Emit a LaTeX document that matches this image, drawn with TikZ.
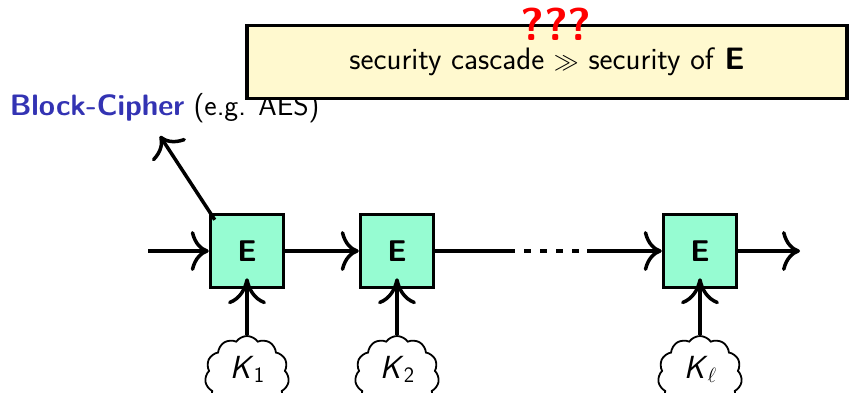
\documentclass[tikz,border=0pt]{standalone}
\usepackage{fontspec}
\usetikzlibrary{arrows.meta,shapes.symbols,calc}

\definecolor{cipherfill}{RGB}{150,252,210}
\definecolor{notefill}{RGB}{255,249,207}
\definecolor{structblue}{RGB}{51,51,179}

% key name with a lowered subscript
\newcommand{\keyname}[1]{\textit{K}\raisebox{-4pt}{\fontsize{22}{22}\selectfont #1}}

\begin{document}
\begin{tikzpicture}[x=1pt,y=-1pt,
  font=\sffamily\fontsize{30}{36}\selectfont,
  line width=3.5pt,
  flow/.style={-{To[length=18pt,width=40pt]}},
  keyflow/.style={-{To[length=26pt,width=38pt]}},
  cipher/.style={draw, fill=cipherfill, minimum size=73pt, inner sep=0pt},
  keycloud/.style={cloud, draw, fill=white, line width=1.8pt, cloud puffs=11,
    cloud puff arc=110, aspect=1.2, minimum width=84pt, minimum height=80pt,
    inner sep=0pt, text depth=18pt, font=\sffamily\fontsize{32}{38}\selectfont},
  note/.style={draw, fill=notefill, minimum width=600pt, minimum height=73pt,
    inner sep=0pt, font=\sffamily\fontsize{31}{36}\selectfont}
]
\useasboundingbox (0,0) rectangle (850,392);

% block cipher label
\node[anchor=base west, inner sep=0pt, font=\sffamily\fontsize{29.5}{36}\selectfont]
  (bclabel) at (8,115)
  {\textcolor{structblue}{\bfseries Block-Cipher} (e.g. AES)};

% cipher stages
\node[cipher] (e1) at (247,251) {\bfseries E};
\node[cipher] (e2) at (397,251) {\bfseries E};
\node[cipher] (e3) at (700,251) {\bfseries E};

% round keys
\node[keycloud] (k1) at (247,376) {\keyname{1}};
\node[keycloud] (k2) at (397,376) {\keyname{2}};
\node[keycloud] (k3) at (700,376) {\keyname{$\ell$}};

% data path
\coordinate (in)  at (148,251);
\coordinate (out) at (800,251);
\coordinate (gapa) at (515,251);
\coordinate (gapb) at (524,251);
\coordinate (gapc) at (580,251);
\coordinate (gapd) at (587,251);
\draw[flow] (in) -- (e1.west);
\draw[flow] (e1.east) -- (e2.west);
\draw (e2.east) -- (gapa);
\draw[dash pattern=on 7pt off 9pt] (gapb) -- (gapc);
\draw[flow] (gapd) -- (e3.west);
\draw[flow] (e3.east) -- (out);

% key inputs
\draw[keyflow] (k1.north) -- ($(e1.south)+(0,-11)$);
\draw[keyflow] (k2.north) -- ($(e2.south)+(0,-11)$);
\draw[keyflow] (k3.north) -- ($(e3.south)+(0,-11)$);

% pointer to the label
\coordinate (bctip) at (160,136);
\draw[flow] ($(e1.north west)+(6,7)$) -- (bctip);

% claim box
\node[note] (claim) at (547,62) {security cascade $\gg$ security of \textbf{E}};
\node[anchor=base, text=red, inner sep=0pt,
  font=\sffamily\bfseries\fontsize{46}{52}\selectfont] (qq) at (556,40) {???};
\end{tikzpicture}
\end{document}
